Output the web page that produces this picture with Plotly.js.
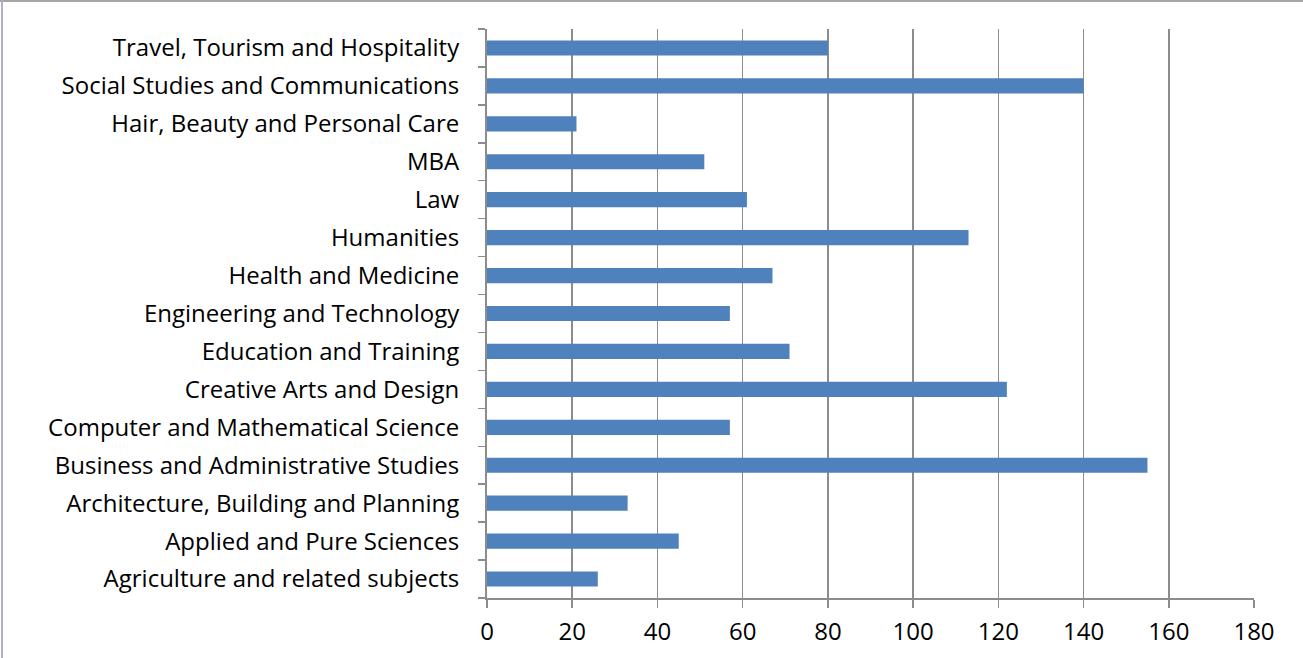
<!DOCTYPE html>
<html>
<head>
<meta charset="utf-8">
<script src="https://cdn.plot.ly/plotly-3.0.1.min.js"></script>
<style>
html,body{margin:0;padding:0;background:#fff;overflow:hidden;}
#chart{width:1303px;height:658px;position:absolute;left:0;top:0;}
#bt{position:absolute;left:0;top:0;width:1303px;height:2px;background:#a6a6a6;}
#bl{position:absolute;left:1px;top:0;width:2px;height:658px;background:#b4afc4;}
</style>
</head>
<body>
<div id="chart"></div>
<div id="bt"></div>
<div id="bl"></div>
<script>
const categories = [
  "Agriculture and related subjects",
  "Applied and Pure Sciences",
  "Architecture, Building and Planning",
  "Business and Administrative Studies",
  "Computer and Mathematical Science",
  "Creative Arts and Design",
  "Education and Training",
  "Engineering and Technology",
  "Health and Medicine",
  "Humanities",
  "Law",
  "MBA",
  "Hair, Beauty and Personal Care",
  "Social Studies and Communications",
  "Travel, Tourism and Hospitality"
];
const values = [26, 45, 33, 155, 57, 122, 71, 57, 67, 113, 61, 51, 21, 140, 80];
const xTicks = [0, 20, 40, 60, 80, 100, 120, 140, 160, 180];

const font = {family: "'Open Sans', sans-serif", size: 24, color: "#000"};

Plotly.newPlot("chart", [{
  type: "bar",
  orientation: "h",
  y: categories,
  x: values,
  marker: {color: "#4f81bd", line: {width: 0}},
  hoverinfo: "x+y"
}], {
  width: 1303, height: 658,
  margin: {l: 487, r: 49, t: 29, b: 60, pad: 0},
  paper_bgcolor: "#fff", plot_bgcolor: "#fff",
  bargap: 0.6,
  showlegend: false,
  font: font,
  xaxis: {
    range: [0, 180],
    tickvals: xTicks,
    ticktext: xTicks.map(String),
    showgrid: true, gridcolor: "#8c8c8c", gridwidth: 1.5,
    zeroline: false,
    showline: true, linecolor: "#8c8c8c", linewidth: 2,
    ticks: "outside", ticklen: 8, tickcolor: "#8c8c8c", tickwidth: 1.5,
    ticklabelstandoff: 3,
    tickfont: font,
    fixedrange: true
  },
  yaxis: {
    type: "category",
    categoryorder: "array", categoryarray: categories,
    showgrid: false, zeroline: false,
    showline: true, linecolor: "#8c8c8c", linewidth: 2,
    ticks: "outside", tickson: "boundaries", ticklen: 7, tickcolor: "#8c8c8c", tickwidth: 1.5,
    ticklabelstandoff: 21,
    tickfont: font,
    automargin: false,
    fixedrange: true
  }
}, {displayModeBar: false, staticPlot: true});
</script>
</body>
</html>
